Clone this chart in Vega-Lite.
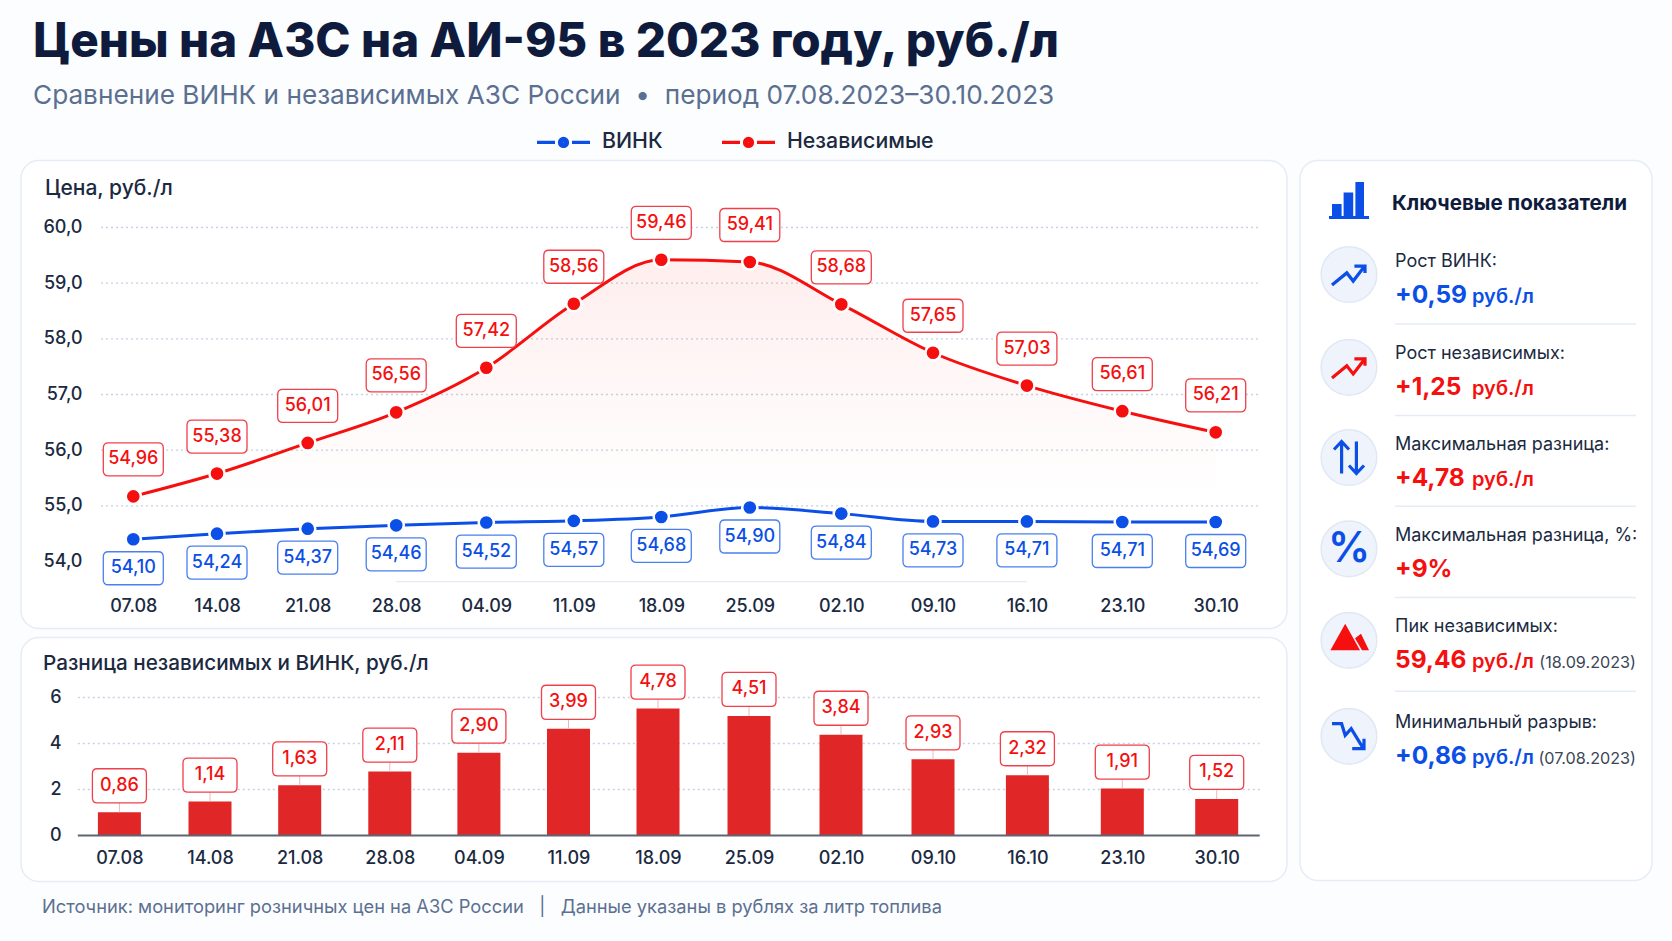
{
"$schema":"https://vega.github.io/schema/vega-lite/v6.json",
"background":"#fcfdfe",
"padding":{"left":20,"top":18.5,"right":0,"bottom":0},
"config":{"view":{"fill":"#ffffff","stroke":"#e6ecf5","strokeWidth":1.5,"cornerRadius":18},"font":"Inter"},
"datasets":{
"prices":[
{"date":"2023-08-07","series":"ВИНК","price":54.40,"label":"54,10"},{"date":"2023-08-14","series":"ВИНК","price":54.50,"label":"54,24"},{"date":"2023-08-21","series":"ВИНК","price":54.59,"label":"54,37"},{"date":"2023-08-28","series":"ВИНК","price":54.65,"label":"54,46"},{"date":"2023-09-04","series":"ВИНК","price":54.70,"label":"54,52"},{"date":"2023-09-11","series":"ВИНК","price":54.73,"label":"54,57"},{"date":"2023-09-18","series":"ВИНК","price":54.80,"label":"54,68"},{"date":"2023-09-25","series":"ВИНК","price":54.97,"label":"54,90"},{"date":"2023-10-02","series":"ВИНК","price":54.86,"label":"54,84"},{"date":"2023-10-09","series":"ВИНК","price":54.72,"label":"54,73"},{"date":"2023-10-16","series":"ВИНК","price":54.72,"label":"54,71"},{"date":"2023-10-23","series":"ВИНК","price":54.71,"label":"54,71"},{"date":"2023-10-30","series":"ВИНК","price":54.71,"label":"54,69"},
{"date":"2023-08-07","series":"Независимые","price":55.17,"label":"54,96"},{"date":"2023-08-14","series":"Независимые","price":55.58,"label":"55,38"},{"date":"2023-08-21","series":"Независимые","price":56.13,"label":"56,01"},{"date":"2023-08-28","series":"Независимые","price":56.68,"label":"56,56"},{"date":"2023-09-04","series":"Независимые","price":57.48,"label":"57,42"},{"date":"2023-09-11","series":"Независимые","price":58.63,"label":"58,56"},{"date":"2023-09-18","series":"Независимые","price":59.42,"label":"59,46"},{"date":"2023-09-25","series":"Независимые","price":59.38,"label":"59,41"},{"date":"2023-10-02","series":"Независимые","price":58.62,"label":"58,68"},{"date":"2023-10-09","series":"Независимые","price":57.75,"label":"57,65"},{"date":"2023-10-16","series":"Независимые","price":57.16,"label":"57,03"},{"date":"2023-10-23","series":"Независимые","price":56.70,"label":"56,61"},{"date":"2023-10-30","series":"Независимые","price":56.32,"label":"56,21"}],
"gap":[
{"date":"2023-08-07","gap":1.01,"label":"0,86"},{"date":"2023-08-14","gap":1.475,"label":"1,14"},{"date":"2023-08-21","gap":2.18,"label":"1,63"},{"date":"2023-08-28","gap":2.78,"label":"2,11"},{"date":"2023-09-04","gap":3.6,"label":"2,90"},{"date":"2023-09-11","gap":4.64,"label":"3,99"},{"date":"2023-09-18","gap":5.52,"label":"4,78"},{"date":"2023-09-25","gap":5.2,"label":"4,51"},{"date":"2023-10-02","gap":4.38,"label":"3,84"},{"date":"2023-10-09","gap":3.31,"label":"2,93"},{"date":"2023-10-16","gap":2.62,"label":"2,32"},{"date":"2023-10-23","gap":2.04,"label":"1,91"},{"date":"2023-10-30","gap":1.59,"label":"1,52"}],
"priceGrid":[{"tick":60,"from":"2023-08-01","to":"2023-11-05"},{"tick":59,"from":"2023-08-01","to":"2023-11-05"},{"tick":58,"from":"2023-08-01","to":"2023-11-05"},{"tick":57,"from":"2023-08-01","to":"2023-11-05"},{"tick":56,"from":"2023-08-01","to":"2023-11-05"},{"tick":55,"from":"2023-08-01","to":"2023-11-05"}],
"priceFloor":[{"tick":53.64,"from":"2023-08-28","to":"2023-10-16"}],
"gapGrid":[{"tick":6,"from":"2023-08-01","to":"2023-11-05"},{"tick":4,"from":"2023-08-01","to":"2023-11-05"},{"tick":2,"from":"2023-08-01","to":"2023-11-05"}],
"gapBase":[{"tick":0,"from":"2023-08-01","to":"2023-11-05"}],
"kpi":[
{"row":1,"label":"Рост ВИНК:","value":"+0,59","unit":"руб./л","date":"","tone":"blue","icon":"upBlue","iconTone":"blue"},
{"row":2,"label":"Рост независимых:","value":"+1,25","unit":"руб./л","date":"","tone":"red","icon":"upRed","iconTone":"red"},
{"row":3,"label":"Максимальная разница:","value":"+4,78","unit":"руб./л","date":"","tone":"red","icon":"updown","iconTone":"blue"},
{"row":4,"label":"Максимальная разница, %:","value":"+9%","unit":"","date":"","tone":"red","icon":"percent","iconTone":"blue"},
{"row":5,"label":"Пик независимых:","value":"59,46","unit":"руб./л","date":"(18.09.2023)","tone":"red","icon":"peak","iconTone":"red"},
{"row":6,"label":"Минимальный разрыв:","value":"+0,86","unit":"руб./л","date":"(07.08.2023)","tone":"blue","icon":"down","iconTone":"blue"}],
"seps":[{"row":1.5},{"row":2.5},{"row":3.5},{"row":4.5},{"row":5.5}],
"head":[{"row":0,"label":"Ключевые показатели"}],
"seriesNames":[{"series":"ВИНК"},{"series":"Независимые"}]
},
"resolve":{"scale":{"color":"independent","fill":"independent","stroke":"independent","shape":"independent"},"legend":{"color":"independent","fill":"independent","stroke":"independent","shape":"independent"}},
"spacing":0,
"vconcat":[
{"width":1652,"height":47.5,"view":{"stroke":null,"fill":null},
"title":{"text":"Цены на АЗС на АИ-95 в 2023 году, руб./л","subtitle":"Сравнение ВИНК и независимых АЗС России\u00a0\u00a0•\u00a0\u00a0период 07.08.2023–30.10.2023","anchor":"start","frame":"group","dx":12,"offset":2.5,"font":"Inter","fontSize":47.5,"fontWeight":800,"color":"#0f1b3d","subtitleFont":"Inter","subtitleFontSize":26.2,"subtitleFontWeight":400,"subtitleColor":"#5b7091","subtitlePadding":16},
"data":{"name":"seriesNames"},
"mark":{"type":"line","strokeWidth":3},
"encoding":{"color":{"field":"series","type":"nominal","scale":{"domain":["ВИНК","Независимые"],"range":["#0b4fe6","#f50f0f"]},"legend":{"orient":"none","legendX":514,"legendY":2,"direction":"horizontal","title":null,"symbolType":"M-1 0H-.32M.32 0H1M.15 0A.15 .15 0 1 1 -.15 0A.15 .15 0 1 1 .15 0ZM.05 0A.05 .05 0 1 1 -.05 0A.05 .05 0 1 1 .05 0Z","symbolSize":2809,"symbolStrokeWidth":3.3,"labelFont":"Inter","labelFontSize":21.3,"labelFontWeight":500,"labelColor":"#1b2a41","labelOffset":10,"columnPadding":52}}}},
{"spacing":11,
"resolve":{"scale":{"color":"independent","fill":"independent","stroke":"independent","shape":"independent"},"legend":{"color":"independent","fill":"independent","stroke":"independent","shape":"independent"}},
"hconcat":[
{"vconcat":[
{"width":1266,"height":468,
"title":{"text":"Цена, руб./л","anchor":"start","frame":"group","dx":24,"offset":-38,"fontSize":21,"fontWeight":500,"font":"Inter","color":"#1b2a41"},
"data":{"name":"prices"},
"encoding":{
"x":{"field":"date","type":"temporal","scale":{"type":"utc","domain":{"expr":"[1690848000000,1691366400000,1691971200000,1692576000000,1693180800000,1693785600000,1694390400000,1694995200000,1695600000000,1696204800000,1696809600000,1697414400000,1698019200000,1698624000000,1699142400000]"},"range":[80,112.3,196,286.7,375.2,465.3,552.8,640.3,728.8,820.3,912,1005.9,1101.3,1194.7,1240],"nice":false},
"axis":{"orient":"bottom","offset":-31,"values":[1691366400000,1691971200000,1692576000000,1693180800000,1693785600000,1694390400000,1694995200000,1695600000000,1696204800000,1696809600000,1697414400000,1698019200000,1698624000000],"format":"%d.%m","labelFontSize":18,"labelFont":"Inter","labelFontWeight":500,"labelColor":"#1b2a41","domain":false,"ticks":false,"grid":false,"labelPadding":0,"title":null,"labelBaseline":"top","labelFlush":false,"labelOverlap":false}},
"y":{"field":"price","type":"quantitative","scale":{"domain":[54,60],"range":[401,67],"nice":false,"zero":false},
"axis":{"orient":"left","offset":-61,"values":[54,55,56,57,58,59,60],"labelExpr":"replace(format(datum.value,'.1f'),'.',',')","labelFontSize":18,"labelFont":"Inter","labelFontWeight":500,"labelColor":"#1b2a41","domain":false,"ticks":false,"grid":false,"labelPadding":0,"title":null}}
},
"layer":[
{"data":{"name":"priceGrid","format":{"parse":{"from":"date","to":"date"}}},"mark":{"type":"rule","color":"#c6d2e4","strokeWidth":1.3,"strokeDash":[2,3]},"encoding":{"y":{"field":"tick","type":"quantitative"},"x":{"field":"from","type":"temporal"},"x2":{"field":"to"}}},
{"data":{"name":"priceFloor","format":{"parse":{"from":"date","to":"date"}}},"mark":{"type":"rule","color":"#e4eaf4","strokeWidth":1.2},"encoding":{"y":{"field":"tick","type":"quantitative"},"x":{"field":"from","type":"temporal"},"x2":{"field":"to"}}},
{"transform":[{"filter":"datum.series==='Независимые'"}],"mark":{"type":"area","interpolate":"monotone","color":{"x1":0,"y1":0,"x2":0,"y2":1,"gradient":"linear","stops":[{"offset":0,"color":"rgba(255,40,40,0.08)"},{"offset":0.8,"color":"rgba(255,40,40,0)"}]}},"encoding":{"y2":{"datum":54}}},
{"mark":{"type":"line","interpolate":"monotone","strokeWidth":3},"encoding":{"color":{"field":"series","type":"nominal","scale":{"domain":["ВИНК","Независимые"],"range":["#0b4fe6","#f50f0f"]},"legend":null}}},
{"mark":{"type":"point","filled":true,"size":230,"opacity":1,"stroke":"#ffffff","strokeWidth":2.5},"encoding":{"fill":{"field":"series","type":"nominal","scale":{"domain":["ВИНК","Независимые"],"range":["#0b4fe6","#f50f0f"]},"legend":null}}},
{"mark":{"type":"point","filled":true,"size":3600,"opacity":1,"fill":"#ffffff","stroke":"#f0404a","strokeWidth":1.3,"shape":"M-.83 -.55H.83Q1 -.55 1 -.38V.38Q1 .55 .83 .55H-.83Q-1 .55 -1 .38V-.38Q-1 -.55 -.83 -.55Z","yOffset":-37},"transform":[{"filter":"datum.series==='Независимые'"}]},
{"mark":{"type":"point","filled":true,"size":3600,"opacity":1,"fill":"#ffffff","stroke":"#4a7ff0","strokeWidth":1.3,"shape":"M-.83 -.55H.83Q1 -.55 1 -.38V.38Q1 .55 .83 .55H-.83Q-1 .55 -1 .38V-.38Q-1 -.55 -.83 -.55Z","yOffset":29},"transform":[{"filter":"datum.series==='ВИНК'"}]},
{"mark":{"type":"text","dy":-37,"font":"Inter","fontSize":18,"fontWeight":500,"color":"#f50f0f"},"transform":[{"filter":"datum.series==='Независимые'"}],"encoding":{"text":{"field":"label"}}},
{"mark":{"type":"text","dy":29,"font":"Inter","fontSize":18,"fontWeight":500,"color":"#0b4fe6"},"transform":[{"filter":"datum.series==='ВИНК'"}],"encoding":{"text":{"field":"label"}}}
]},
{"width":1266,"height":244,
"title":{"text":"Разница независимых и ВИНК, руб./л","anchor":"start","frame":"group","dx":22,"offset":-37.5,"fontSize":20.7,"fontWeight":500,"font":"Inter","color":"#1b2a41"},
"data":{"name":"gap"},
"encoding":{
"x":{"field":"date","type":"temporal","scale":{"type":"utc","domain":{"expr":"[1690848000000,1691366400000,1691971200000,1692576000000,1693180800000,1693785600000,1694390400000,1694995200000,1695600000000,1696204800000,1696809600000,1697414400000,1698019200000,1698624000000,1699142400000]"},"range":[54,98.4,189,278.7,368.8,457.9,547.5,637,728,820,912,1006.4,1101.3,1195.7,1241.6],"nice":false},
"axis":{"orient":"bottom","offset":-32,"values":[1691366400000,1691971200000,1692576000000,1693180800000,1693785600000,1694390400000,1694995200000,1695600000000,1696204800000,1696809600000,1697414400000,1698019200000,1698624000000],"format":"%d.%m","labelFontSize":18,"labelFont":"Inter","labelFontWeight":500,"labelColor":"#1b2a41","domain":false,"ticks":false,"grid":false,"labelPadding":0,"title":null,"labelBaseline":"top","labelFlush":false,"labelOverlap":false}},
"y":{"field":"gap","type":"quantitative","scale":{"domain":[0,6],"range":[198,60],"nice":false,"zero":false},
"axis":{"orient":"left","offset":-40,"values":[0,2,4,6],"labelFontSize":18,"labelFont":"Inter","labelFontWeight":500,"labelColor":"#1b2a41","domain":false,"ticks":false,"grid":false,"labelPadding":0,"title":null}}
},
"layer":[
{"data":{"name":"gapGrid","format":{"parse":{"from":"date","to":"date"}}},"mark":{"type":"rule","color":"#c6d2e4","strokeWidth":1.3,"strokeDash":[2,3]},"encoding":{"y":{"field":"tick","type":"quantitative"},"x":{"field":"from","type":"temporal"},"x2":{"field":"to"}}},
{"mark":{"type":"bar","width":43,"color":"#e02626"}},
{"data":{"name":"gapBase","format":{"parse":{"from":"date","to":"date"}}},"mark":{"type":"rule","color":"#5e6472","strokeWidth":2},"encoding":{"y":{"field":"tick","type":"quantitative"},"x":{"field":"from","type":"temporal"},"x2":{"field":"to"}}},
{"mark":{"type":"point","filled":false,"size":576,"opacity":1,"stroke":"#f0b8b8","strokeWidth":1,"shape":"M0 0V-1"}},
{"mark":{"type":"point","filled":true,"size":2916,"opacity":1,"fill":"#ffffff","stroke":"#f0404a","strokeWidth":1.3,"shape":"M-.82 -.63H.82Q1 -.63 1 -.45V.45Q1 .63 .82 .63H-.82Q-1 .63 -1 .45V-.45Q-1 -.63 -.82 -.63Z","yOffset":-26.5}},
{"mark":{"type":"text","dy":-26.5,"font":"Inter","fontSize":18,"fontWeight":500,"color":"#f50f0f"},"encoding":{"text":{"field":"label"}}}
]},
{"width":1266,"height":50,"view":{"stroke":null,"fill":null},
"data":{"values":[{"note":"Источник: мониторинг розничных цен на АЗС России\u00a0\u00a0\u00a0|\u00a0\u00a0\u00a0Данные указаны в рублях за литр топлива","at":0}]},
"mark":{"type":"text","align":"left","dx":21,"font":"Inter","fontSize":18.3,"color":"#5b7091"},
"encoding":{"text":{"field":"note"},"x":{"field":"at","type":"quantitative","scale":{"domain":[0,1],"range":[0,1266]},"axis":null},"y":{"value":18}}}
],"spacing":7},
{"width":352,"height":720,
"encoding":{"y":{"field":"row","type":"quantitative","scale":{"domain":[0,1,2,3,4,5,6],"range":[40,117,209.8,300,391.3,482.8,578.8],"nice":false,"zero":false},"axis":null}},
"layer":[
{"data":{"name":"head"},"mark":{"type":"point","filled":true,"opacity":1,"color":"#0b4fe6","size":1600,"shape":"M-.85 .77V.18H-.37V.77ZM-.27 .77V-.4H.21V.77ZM.32 .77V-.93H.75V.77ZM-1 .77H1V.93H-1Z"},"encoding":{"x":{"datum":0,"type":"quantitative","scale":{"domain":[0,1,2],"range":[49,95,336],"nice":false,"zero":false},"axis":null}}},
{"data":{"name":"head"},"mark":{"type":"text","align":"left","dx":-3,"dy":3,"font":"Inter","fontSize":20.6,"fontWeight":700,"color":"#0f1b3d"},"encoding":{"x":{"datum":1,"type":"quantitative"},"text":{"field":"label"}}},
{"data":{"name":"seps"},"mark":{"type":"rule","color":"#e6ecf5","strokeWidth":1.5},"encoding":{"x":{"datum":1,"type":"quantitative"},"x2":{"datum":2}}},
{"data":{"name":"kpi"},"mark":{"type":"point","filled":true,"opacity":1,"size":3100,"fill":"#eff3fc","stroke":"#e0e8f6","strokeWidth":1.5,"yOffset":-3},"encoding":{"x":{"datum":0,"type":"quantitative"}}},
{"data":{"name":"kpi"},"transform":[{"filter":"datum.icon==='upBlue'||datum.icon==='upRed'||datum.icon==='updown'||datum.icon==='down'"}],"mark":{"type":"point","filled":false,"opacity":1,"size":1600,"strokeWidth":3.2,"yOffset":-3},"encoding":{"x":{"datum":0,"type":"quantitative"},"shape":{"field":"icon","type":"nominal","legend":null,"scale":{"domain":["upBlue","upRed","updown","down"],"range":["M-.85 .53L-.11 -.08L.21 .33L.75 -.37M.27 -.42H.8V-.08","M-.85 .53L-.11 -.08L.21 .33L.75 -.37M.27 -.42H.8V-.08","M-.37 .8V-.8M-.75 -.4L-.37 -.8L0 -.4M.37 -.8V.8M0 .4L.37 .8L.75 .4","M-.85 -.63L-.37 -.63L-.19 -.05L.11 -.38L.69 .57M.75 .12V.62H.16"]}},"stroke":{"field":"iconTone","type":"nominal","legend":null,"scale":{"domain":["blue","red"],"range":["#0b4fe6","#f50f0f"]}}}},
{"data":{"name":"kpi"},"transform":[{"filter":"datum.icon==='peak'"}],"mark":{"type":"point","filled":true,"opacity":1,"size":1600,"color":"#f50f0f","yOffset":-3,"shape":"M-.19 -.83L-.93 .5H.55ZM.6 -.33L1 .5H.65L.3 -.1Z"},"encoding":{"x":{"datum":0,"type":"quantitative"}}},
{"data":{"name":"kpi"},"transform":[{"filter":"datum.icon==='percent'"}],"mark":{"type":"text","font":"Inter","fontSize":42,"fontWeight":600,"color":"#0b4fe6","dy":-3},"encoding":{"x":{"datum":0,"type":"quantitative"},"text":{"value":"%"}}},
{"data":{"name":"kpi"},"mark":{"type":"text","align":"left","dy":-16,"font":"Inter","fontSize":18,"fontWeight":400,"color":"#1b2a41"},"encoding":{"x":{"datum":1,"type":"quantitative"},"text":{"field":"label"}}},
{"data":{"name":"kpi"},"mark":{"type":"text","align":"left","baseline":"alphabetic","dy":25,"font":"Inter","fontSize":24.5,"fontWeight":700},"encoding":{"x":{"datum":1,"type":"quantitative"},"text":{"field":"value"},"color":{"field":"tone","type":"nominal","legend":null,"scale":{"domain":["blue","red"],"range":["#0b4fe6","#f50f0f"]}}}},
{"data":{"name":"kpi"},"mark":{"type":"text","align":"left","baseline":"alphabetic","dx":77,"dy":25,"font":"Inter","fontSize":20,"fontWeight":600},"encoding":{"x":{"datum":1,"type":"quantitative"},"text":{"field":"unit"},"color":{"field":"tone","type":"nominal","legend":null,"scale":{"domain":["blue","red"],"range":["#0b4fe6","#f50f0f"]}}}},
{"data":{"name":"kpi"},"mark":{"type":"text","align":"right","baseline":"alphabetic","dy":25,"font":"Inter","fontSize":16.2,"color":"#3a4658"},"encoding":{"x":{"datum":2,"type":"quantitative"},"text":{"field":"date"}}}
]}
]}
]
}
